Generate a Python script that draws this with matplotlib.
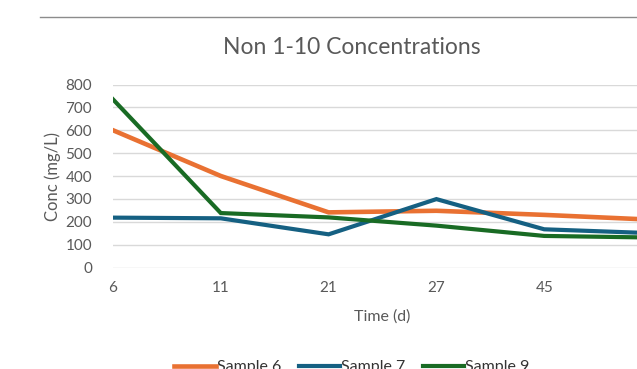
import numpy as np
import matplotlib
matplotlib.use('Agg')
import matplotlib.pyplot as plt
from matplotlib.lines import Line2D

plt.rcParams['font.family'] = ['Lato', 'DejaVu Sans']

# last category is off the cropped edge, its label is not visible
days = ['6', '11', '21', '27', '45', '']
sample6 = [600, 400, 241, 248, 230, 209]
sample7 = [218, 215, 145, 299, 167, 150]
sample9 = [735, 238, 219, 183, 138, 131]

W, H = 637, 369
fig = plt.figure(figsize=(W/100, H/100), dpi=100)

# plot area runs past the right edge, like the cropped screenshot
x0, x1 = 113, 652
y0, y1 = 267.5, 84.5
ax = fig.add_axes([x0/W, 1-y0/H, (x1-x0)/W, (y0-y1)/H])

x = np.arange(len(days))
ax.plot(x, sample6, color='#E97132', lw=3.3, label='Sample 6', solid_joinstyle='miter')
ax.plot(x, sample7, color='#156082', lw=3.0, label='Sample 7', solid_joinstyle='miter')
ax.plot(x, sample9, color='#196B24', lw=3.0, label='Sample 9', solid_joinstyle='miter')

ax.set_xlim(0, len(days)-1)
ax.set_ylim(0, 800)
ax.set_yticks(range(0, 801, 100))
ax.set_xticks(x)
ax.set_xticklabels(days)
ax.grid(axis='y', color='#D9D9D9', lw=1)
ax.set_axisbelow(True)
for s in ax.spines.values():
    s.set_visible(False)
ax.tick_params(length=0, colors='#595959', labelsize=11)
ax.tick_params(axis='y', pad=15)
ax.tick_params(axis='x', pad=10)

ax.set_xlabel('Time (d)', color='#595959', fontsize=11.5, labelpad=10)
ax.set_ylabel('Conc (mg/L)', color='#595959', fontsize=12, labelpad=3)

fig.text(352/W, 1-47/H, 'Non 1-10 Concentrations', ha='center', va='center',
         color='#595959', fontsize=16.5)

fig.legend(loc='center', bbox_to_anchor=(352/W, 1-367/H), ncol=3, frameon=False,
           fontsize=11.5, labelcolor='#333333', handlelength=2.6, handletextpad=0.05,
           columnspacing=1.1)

fig.add_artist(Line2D([40/W, 1], [1-17/H, 1-17/H], color='#8C8C8C', lw=1))

plt.savefig('out.png', dpi=100)
